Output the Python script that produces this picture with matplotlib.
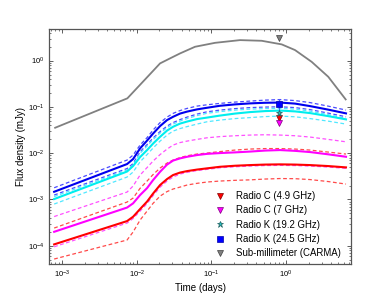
import numpy as np
import matplotlib
matplotlib.use('Agg')
import matplotlib.pyplot as plt

plt.rcParams['font.family'] = ['Liberation Sans', 'DejaVu Sans']
plt.rcParams['mathtext.fontset'] = 'custom'
plt.rcParams['mathtext.rm'] = 'Liberation Sans'

# model light curves (time in days, flux in mJy)
t_model = [7.82e-4, 7.41e-3, 8.92e-3, 0.01107, 0.01374, 0.01652, 0.02051, 0.02545,
           0.03063, 0.0380, 0.0472, 0.0641, 0.0873, 0.1303, 0.2070, 0.329, 0.522,
           0.829, 1.315, 2.09, 3.64, 6.34]

blue_mid = [1.466e-3, 5.82e-3, 7.46e-3, 0.0127, 0.0187, 0.0265, 0.0385, 0.0519, 0.0611, 0.0717, 0.0791,
            0.0883, 0.0957, 0.1057, 0.1132, 0.119, 0.1227, 0.1239, 0.1178, 0.104, 0.0874, 0.0724]
blue_hi = [1.79e-3, 7.1e-3, 9.1e-3, 0.01496, 0.0217, 0.0316, 0.0458, 0.0602, 0.0724, 0.0832, 0.0928,
           0.104, 0.111, 0.119, 0.127, 0.1334, 0.140, 0.1438, 0.1368, 0.1239, 0.104, 0.0853]
blue_lo = [1.245e-3, 4.65e-3, 5.96e-3, 0.01072, 0.01534, 0.0212, 0.0293, 0.0385, 0.0458, 0.0532, 0.0602,
           0.0699, 0.0784, 0.0853, 0.0918, 0.0966, 0.099, 0.1005, 0.0966, 0.0874, 0.0735, 0.0611]

cyan_mid = [1.02e-3, 4.01e-3, 5.27e-3, 8.24e-3, 0.01167, 0.0161, 0.0226, 0.0308, 0.0372, 0.0436, 0.0482,
            0.0545, 0.0587, 0.0649, 0.0717, 0.0772, 0.0811, 0.0832, 0.0799, 0.0735, 0.0633, 0.0537]
cyan_hi = [1.155e-3, 4.32e-3, 5.53e-3, 9.95e-3, 0.01424, 0.0197, 0.0272, 0.0357, 0.0425, 0.0494, 0.0559,
           0.0649, 0.0728, 0.0792, 0.0852, 0.0896, 0.0919, 0.0933, 0.0896, 0.0811, 0.0682, 0.0567]
cyan_lo = [7.96e-4, 3.05e-3, 3.91e-3, 6.52e-3, 9.33e-3, 0.0129, 0.01824, 0.0246, 0.030, 0.034, 0.0375,
           0.0425, 0.0477, 0.0519, 0.0559, 0.0587, 0.0617, 0.0633, 0.0611, 0.0559, 0.0493, 0.0425]

mag_mid = [2.0e-4, 6.68e-4, 8.24e-4, 1.245e-3, 1.76e-3, 2.62e-3, 3.96e-3, 5.67e-3, 6.92e-3, 7.72e-3, 8.36e-3,
           9.1e-3, 9.66e-3, 0.01005, 0.0104, 0.01083, 0.01138, 0.01167, 0.01122, 0.01057, 9.46e-3, 8.36e-3]
mag_hi = [4.27e-4, 1.445e-3, 1.95e-3, 3.37e-3, 4.89e-3, 6.75e-3, 9.33e-3, 0.01227, 0.01496, 0.01694, 0.01824,
          0.01986, 0.0215, 0.0228, 0.0238, 0.0246, 0.0250, 0.0246, 0.0238, 0.0223, 0.01986, 0.0176]
mag_lo = [9.5e-5, 3.09e-4, 3.87e-4, 5.61e-4, 8.15e-4, 1.21e-3, 1.85e-3, 2.5e-3, 3.05e-3, 3.54e-3, 3.85e-3,
          4.21e-3, 4.47e-3, 4.84e-3, 5.08e-3, 5.27e-3, 5.4e-3, 5.45e-3, 5.4e-3, 5.27e-3, 5.01e-3, 4.7e-3]

red_mid = [1.07e-4, 3.41e-4, 4.23e-4, 6.21e-4, 9.01e-4, 1.34e-3, 2.05e-3, 2.76e-3, 3.37e-3, 3.81e-3, 4.1e-3,
           4.42e-3, 4.7e-3, 5.08e-3, 5.35e-3, 5.53e-3, 5.67e-3, 5.73e-3, 5.67e-3, 5.53e-3, 5.27e-3, 4.93e-3]
red_hi = [2.41e-4, 8.79e-4, 1.07e-3, 1.74e-3, 2.5e-3, 3.45e-3, 4.77e-3, 6.11e-3, 7.1e-3, 8.03e-3, 8.79e-3,
          9.57e-3, 0.01005, 0.01083, 0.01167, 0.01227, 0.01256, 0.01256, 0.01227, 0.01167, 0.01057, 9.57e-3]
red_lo = [5.16e-5, 1.33e-4, 1.98e-4, 3.59e-4, 5.61e-4, 8.24e-4, 1.18e-3, 1.48e-3, 1.68e-3, 1.85e-3, 2.05e-3,
          2.23e-3, 2.38e-3, 2.5e-3, 2.59e-3, 2.65e-3, 2.76e-3, 2.83e-3, 2.81e-3, 2.69e-3, 2.44e-3, 2.15e-3]

t_submm = [8.06e-4, 7.48e-3, 0.0129, 0.0205, 0.0283, 0.038, 0.0603, 0.1117, 0.2415, 0.471, 0.873,
           1.315, 2.20, 3.67, 6.28]
submm = [0.0354, 0.153, 0.391, 0.87, 1.13, 1.43, 1.99, 2.42, 2.77, 2.68, 2.24,
         1.69, 0.94, 0.447, 0.145]

# observations at ~0.8 d (upper limits + K-band detection)
t_obs = 0.8
obs_c49 = 0.058
obs_c7 = 0.044
obs_k19 = 0.0724
obs_k24 = 0.115
obs_k24_err = [[0.045], [0.035]]
obs_carma = 3.06

fig = plt.figure(figsize=(3.9, 2.94), dpi=100)
ax = fig.add_axes([0.126, 0.102, 0.774, 0.799])

dash = (0, (3, 2))
ax.plot(t_submm, submm, color='#808080', lw=1.3)

ax.plot(t_model, blue_hi, color='#4a4aff', lw=0.9, ls=dash)
ax.plot(t_model, blue_lo, color='#4a4aff', lw=0.9, ls=dash)
ax.plot(t_model, cyan_hi, color='#50e8ff', lw=0.9, ls=dash)
ax.plot(t_model, cyan_lo, color='#50e8ff', lw=0.9, ls=dash)
ax.plot(t_model, mag_hi, color='#ff50ff', lw=0.9, ls=dash)
ax.plot(t_model, mag_lo, color='#ff50ff', lw=0.9, ls=dash)
ax.plot(t_model, red_hi, color='#ff4a4a', lw=0.9, ls=dash)
ax.plot(t_model, red_lo, color='#ff4a4a', lw=0.9, ls=dash)

ax.plot(t_model, blue_mid, color='#0000ee', lw=1.5)
ax.plot(t_model, cyan_mid, color='#00eeee', lw=1.5)
ax.plot(t_model, mag_mid, color='#ff00ff', lw=1.5)
ax.plot(t_model, red_mid, color='#ff0000', lw=1.5)

ax.errorbar([t_obs], [obs_k24], yerr=obs_k24_err, fmt='none', ecolor='#4060ff', elinewidth=0.8, capsize=0)
ax.plot([t_obs], [obs_c49], 'v', color='#ff0000', mec='#800000', ms=5, mew=0.5, ls='none', label='Radio C (4.9 GHz)')
ax.plot([t_obs], [obs_c7], 'v', color='#ff00ff', mec='#800080', ms=5, mew=0.5, ls='none', label='Radio C (7 GHz)')
ax.plot([t_obs], [obs_k19], '*', color='#20c0c0', mec='#206060', ms=5, mew=0.5, ls='none', label='Radio K (19.2 GHz)')
ax.plot([t_obs], [obs_k24], 's', color='#0000ff', mec='#0000aa', ms=5, mew=0.5, ls='none', label='Radio K (24.5 GHz)')
ax.plot([t_obs], [obs_carma], 'v', color='#808080', mec='#404040', ms=5, mew=0.5, ls='none', label='Sub-millimeter (CARMA)')

ax.set_xscale('log')
ax.set_yscale('log')
ax.set_xlim(6.7e-4, 7.4)
ax.set_ylim(4.03e-5, 4.79)
ax.set_xlabel('Time (days)', fontsize=7, labelpad=2)
ax.set_ylabel('Flux density (mJy)', fontsize=7, labelpad=1)
ax.tick_params(which='both', direction='in', top=True, right=True, labelsize=5.5, color='#444444')
ax.tick_params(which='major', length=3, width=0.6)
ax.tick_params(which='minor', length=1.6, width=0.5)
ax.xaxis.set_minor_locator(matplotlib.ticker.LogLocator(subs=np.arange(2, 10)))
ax.yaxis.set_minor_locator(matplotlib.ticker.LogLocator(subs=np.arange(2, 10)))
ax.xaxis.set_minor_formatter(matplotlib.ticker.NullFormatter())
ax.yaxis.set_minor_formatter(matplotlib.ticker.NullFormatter())
for s in ax.spines.values():
    s.set_color('#555555')
    s.set_linewidth(0.9)

ax.legend(loc='lower right', bbox_to_anchor=(0.985, 0.0), frameon=False, fontsize=6.9,
          handlelength=1.0, handletextpad=1.2, labelspacing=0.45, borderaxespad=0.2)

fig.savefig('out.png', dpi=100)
